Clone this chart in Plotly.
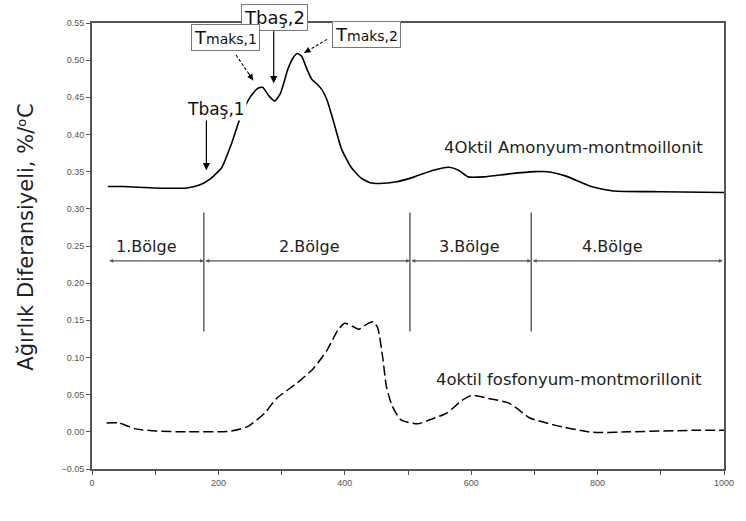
import plotly.graph_objects as go

# Sıcaklık (°C) ve türev kütle kaybı (%/°C) değerleri
sicaklik_amonyum = [25, 50, 100, 150, 170, 185, 205, 220, 236, 250, 262, 270, 280, 289,
                    298, 310, 318, 325, 332, 340, 348, 356, 364, 372, 382, 395, 410,
                    425, 440, 455, 480, 510, 540, 565, 580, 595, 620, 660, 700, 720,
                    750, 790, 825, 900, 1000]
dtg_amonyum = [0.330, 0.330, 0.328, 0.328, 0.332, 0.339, 0.355, 0.386, 0.426, 0.450,
               0.462, 0.4635, 0.452, 0.445, 0.455, 0.488, 0.503, 0.509, 0.505, 0.488,
               0.474, 0.468, 0.460, 0.446, 0.418, 0.380, 0.356, 0.342, 0.335, 0.334,
               0.336, 0.343, 0.352, 0.356, 0.352, 0.343, 0.343, 0.347, 0.350, 0.350,
               0.344, 0.330, 0.324, 0.323, 0.322]

sicaklik_fosfonyum = [23, 42, 69, 102, 150, 220, 246, 273, 292, 325, 350, 372, 390, 400,
                      412, 422, 435, 445, 452, 460, 466, 475, 489, 516, 540, 561, 585,
                      601, 627, 659, 675, 692, 732, 785, 804, 850, 949, 1000]
dtg_fosfonyum = [0.012, 0.012, 0.004, 0.001, 0.000, 0.001, 0.007, 0.025, 0.045, 0.066,
                 0.085, 0.110, 0.138, 0.146, 0.142, 0.138, 0.145, 0.148, 0.140, 0.100,
                 0.060, 0.035, 0.016, 0.011, 0.018, 0.025, 0.042, 0.049, 0.045, 0.039,
                 0.030, 0.019, 0.009, 0.000, -0.001, 0.000, 0.002, 0.002]

# Bozunma bölgeleri
bolge_sinirlari = [25, 177, 503, 695, 998]
bolge_adlari = ["1.Bölge", "2.Bölge", "3.Bölge", "4.Bölge"]
bolge_etiket_x = [86, 344, 597, 822]

y_ticks = [round(-0.05 + 0.05 * i, 2) for i in range(13)]
x_ticks = [0, 200, 400, 600, 800, 1000]

FONT = "DejaVu Sans"
GRI = "#555555"

fig = go.Figure()
fig.add_trace(go.Scatter(
    x=sicaklik_amonyum, y=dtg_amonyum, mode="lines",
    line=dict(color="black", width=1.6, shape="spline", smoothing=0.5),
    showlegend=False, hoverinfo="skip"))
fig.add_trace(go.Scatter(
    x=sicaklik_fosfonyum, y=dtg_fosfonyum, mode="lines",
    line=dict(color="black", width=1.5, dash="10px,4px", shape="spline", smoothing=0.6),
    showlegend=False, hoverinfo="skip"))

ann = []

# Bölge ayırıcı yatay çift yönlü oklar
y_bolge = 0.23
for a, b in zip(bolge_sinirlari[:-1], bolge_sinirlari[1:]):
    ann.append(dict(x=b, y=y_bolge, ax=a, ay=y_bolge, xref="x", yref="y",
                    axref="x", ayref="y", text="", showarrow=True,
                    arrowhead=2, startarrowhead=2, arrowside="end+start",
                    arrowsize=0.6, startarrowsize=0.6, arrowwidth=1.3,
                    arrowcolor=GRI))
for ad, xb in zip(bolge_adlari, bolge_etiket_x):
    ann.append(dict(x=xb, y=0.249, xref="x", yref="y", text=ad, showarrow=False,
                    font=dict(family=FONT, size=16, color="#222")))

# Eğri etiketleri
ann.append(dict(x=970, y=0.382, xref="x", yref="y", xanchor="right",
                text="4Oktil Amonyum-montmoillonit", showarrow=False,
                font=dict(family=FONT, size=16.5, color="#222")))
ann.append(dict(x=969, y=0.071, xref="x", yref="y", xanchor="right",
                text="4oktil fosfonyum-montmorillonit", showarrow=False,
                font=dict(family=FONT, size=16.5, color="#222")))

# Başlangıç ve maksimum sıcaklık işaretleri
ann.append(dict(x=181, y=0.352, ax=181, ay=0.424, xref="x", yref="y",
                axref="x", ayref="y", text="", showarrow=True, arrowhead=2,
                arrowsize=1.2, arrowwidth=1.2, arrowcolor="black"))
ann.append(dict(x=196, y=0.434, xref="x", yref="y",
                text="Tbaş,1", showarrow=False, bgcolor="white",
                font=dict(family=FONT, size=17, color="#111")))

ann.append(dict(x=287.5, y=0.469, ax=287.5, ay=0.541, xref="x", yref="y",
                axref="x", ayref="y", text="", showarrow=True, arrowhead=2,
                arrowsize=1.2, arrowwidth=1.2, arrowcolor="black"))
ann.append(dict(x=289, y=1.012, xref="x", yref="paper", yanchor="middle",
                text="Tbaş,2", showarrow=False, bgcolor="white",
                bordercolor="#777", borderwidth=1, borderpad=2,
                font=dict(family=FONT, size=18, color="#111")))

ann.append(dict(x=212, y=0.530, xref="x", yref="y",
                text="T<span style='font-size:14px'>maks,1</span>",
                showarrow=False, bgcolor="white", bordercolor="#777",
                borderwidth=1, borderpad=2,
                font=dict(family=FONT, size=18, color="#111")))
ann.append(dict(x=434, y=0.535, xref="x", yref="y",
                text="T<span style='font-size:14px'>maks,2</span>",
                showarrow=False, bgcolor="white", bordercolor="#777",
                borderwidth=1, borderpad=2,
                font=dict(family=FONT, size=18, color="#111")))

# Kesikli ok gövdeleri ve uçları
oklar = [((228, 0.507), (255, 0.473)), ((372, 0.528), (336, 0.510))]
shapes = []
for (x0, y0), (x1, y1) in oklar:
    shapes.append(dict(type="line", xref="x", yref="y", x0=x0, y0=y0, x1=x1, y1=y1,
                       line=dict(color="black", width=1.1, dash="3px,2px")))
    ann.append(dict(x=x1, y=y1, ax=x1 + (x0 - x1) * 0.3, ay=y1 + (y0 - y1) * 0.3,
                    xref="x", yref="y", axref="x", ayref="y", text="",
                    showarrow=True, arrowhead=2, arrowsize=1.1, arrowwidth=1.1,
                    arrowcolor="black"))

# Bölge sınırı dikey çizgileri
for xs in bolge_sinirlari[1:-1]:
    shapes.append(dict(type="line", xref="x", yref="y", x0=xs, x1=xs,
                       y0=0.135, y1=0.295, line=dict(color=GRI, width=1.4)))

# Eksen başlıkları
ann.append(dict(x=379, y=-0.087, xref="x", yref="y", text="Sıcaklık, ᵒC",
                showarrow=False, font=dict(family=FONT, size=20, color="#222")))
ann.append(dict(x=-0.105, y=0.262, xref="paper", yref="y", xanchor="center",
                yanchor="middle", text="Ağırlık Diferansiyeli, %/ᵒC", textangle=-90,
                showarrow=False, font=dict(family=FONT, size=21, color="#222")))

fig.update_layout(
    width=746, height=521,
    margin=dict(l=92, r=14, t=23, b=52),
    paper_bgcolor="white", plot_bgcolor="white",
    annotations=ann, shapes=shapes,
)
fig.update_xaxes(
    range=[0, 1000], tickvals=x_ticks, ticks="outside", ticklen=4, tickwidth=1.2,
    tickcolor=GRI, showline=True, linecolor=GRI, linewidth=2, mirror=True,
    showgrid=False, zeroline=False,
    tickfont=dict(family="Liberation Sans", size=9, color="#555"),
    minor=dict(dtick=100, ticks="outside", ticklen=4, tickcolor=GRI),
)
fig.update_yaxes(
    range=[-0.05, 0.55], tickvals=y_ticks, tickformat=".2f", ticks="outside",
    ticklen=4, tickwidth=1.2, tickcolor=GRI, showline=True, linecolor=GRI,
    linewidth=2, mirror=True, showgrid=False, zeroline=False,
    tickfont=dict(family="Liberation Sans", size=9, color="#555"),
)

fig.write_html("out.html")
